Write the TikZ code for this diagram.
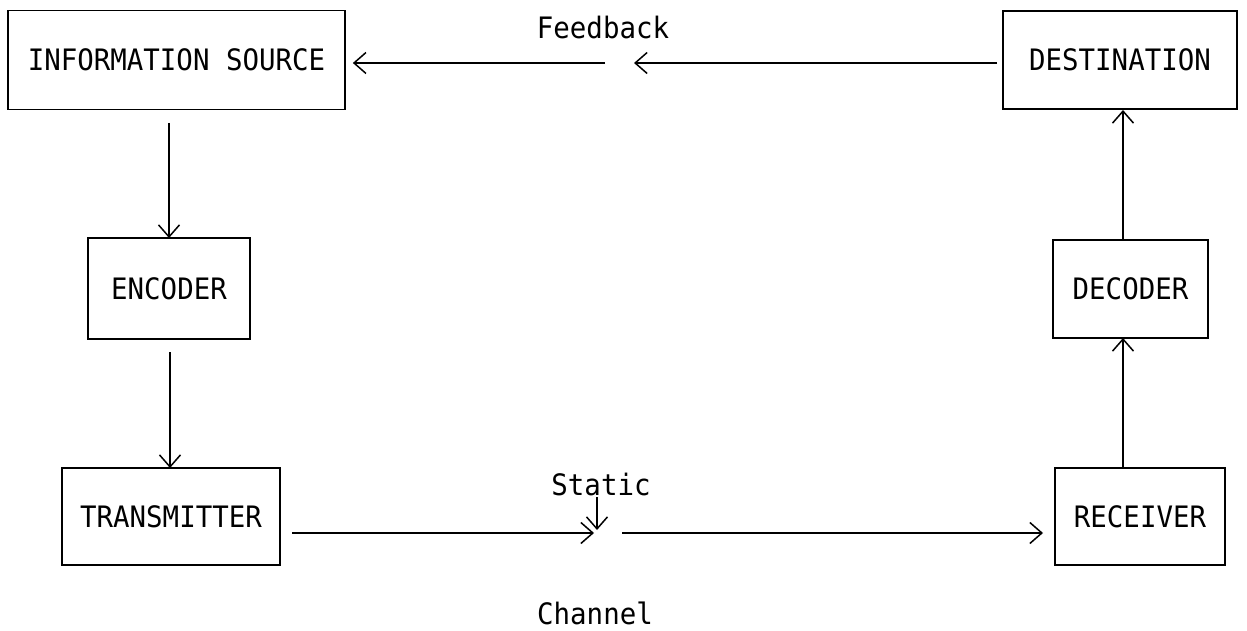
\documentclass[tikz,border=0pt]{standalone}
\usepackage{fontspec}
\newfontfamily\twfont[FakeStretch=0.93]{DejaVu Sans Mono}
\usetikzlibrary{arrows.meta}
\tikzset{
  boxnode/.style={draw, line width=1.7pt, inner sep=0pt, font=\twfont\fontsize{29.5}{30}\selectfont},
  lbl/.style={inner sep=0pt, font=\twfont\fontsize{29.5}{30}\selectfont},
  conn/.style={line width=1.5pt, -{Straight Barb[length=12pt,width=21pt,line width=1.5pt]}}
}
\begin{document}
\begin{tikzpicture}[x=1pt,y=-1pt]
\useasboundingbox[fill=white] (0,0) rectangle (1247,631);
\node[boxnode, minimum width=337pt, minimum height=99pt] (src) at (176.5,60) {INFORMATION SOURCE};
\node[boxnode, minimum width=234pt, minimum height=98pt] (dest) at (1120,60) {DESTINATION};
\node[boxnode, minimum width=162pt, minimum height=101pt] (enc) at (169,288.5) {ENCODER};
\node[boxnode, minimum width=155pt, minimum height=98pt] (dec) at (1130.5,289) {DECODER};
\node[boxnode, minimum width=218pt, minimum height=97pt] (tx) at (171,516.5) {TRANSMITTER};
\node[boxnode, minimum width=170pt, minimum height=97pt] (rx) at (1140,516.5) {RECEIVER};
\node[lbl] (fbl) at (603,28) {Feedback};
\node[lbl] (stl) at (601,484) {Static};
\node[lbl] (chl) at (595,613) {Channel};
\coordinate (fb1) at (605,63);
\coordinate (fb2) at (997,63);
\coordinate (fb3) at (634,63);
\coordinate (ch1) at (292,533);
\coordinate (ch2) at (594,533);
\coordinate (ch3) at (622,533);
\coordinate (ch4) at (1043,533);
\coordinate (st1) at (597,497);
\coordinate (st2) at (597,530);
\coordinate (dx1) at (1123,468);
\coordinate (dx2) at (1123,338);
\coordinate (dx3) at (1123,240);
\coordinate (dx4) at (1123,110);
\coordinate (ex1) at (169,123);
\coordinate (ex2) at (169,238);
\coordinate (ex3) at (170,352);
\coordinate (ex4) at (170,468);
% Feedback path
\draw[conn] (fb1) -- ([xshift=7pt]src.east |- fb1);
\draw[conn] (fb2) -- (fb3);
% Left column
\draw[conn] (ex1) -- (ex2);
\draw[conn] (ex3) -- (ex4);
% Right column
\draw[conn] (dx1) -- (dx2);
\draw[conn] (dx3) -- (dx4);
% Channel
\draw[conn] (ch1) -- (ch2);
\draw[conn] (ch3) -- (ch4);
\draw[conn] (st1) -- (st2);
\end{tikzpicture}
\end{document}
